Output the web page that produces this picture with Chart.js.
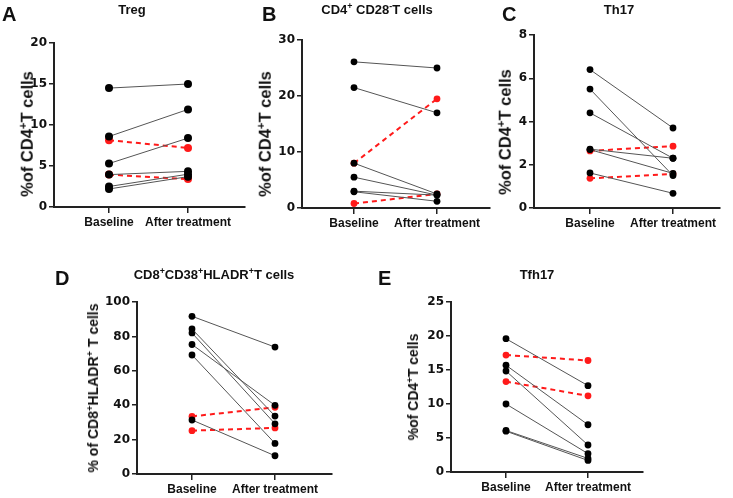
<!DOCTYPE html>
<html>
<head>
<meta charset="utf-8">
<script src="https://cdn.jsdelivr.net/npm/chart.js@4.4.1/dist/chart.umd.min.js"></script>
<style>
  html, body { margin: 0; padding: 0; background: #fff; }
  #wrap { position: relative; width: 733px; height: 498px; overflow: hidden; font-family: "Liberation Sans", Arial, sans-serif; color: #111; }
  canvas { position: absolute; left: 0; top: 0; }
  .t { position: absolute; font-weight: bold; white-space: nowrap; line-height: 1; }
  .letter { font-size: 20px; transform: translateY(-50%); }
  .title { font-size: 13px; transform: translate(-50%, -50%); }
  .ylab { transform: translate(-50%, -50%) rotate(-90deg); }
  sup { font-size: 68%; vertical-align: 0; position: relative; top: -0.55em; }
</style>
</head>
<body>
<div id="wrap">
  <canvas id="cA" width="733" height="498"></canvas>
  <canvas id="cB" width="733" height="498"></canvas>
  <canvas id="cC" width="733" height="498"></canvas>
  <canvas id="cD" width="733" height="498"></canvas>
  <canvas id="cE" width="733" height="498"></canvas>

  <div class="t letter" style="left:2px;top:14px">A</div>
  <div class="t letter" style="left:262px;top:14px">B</div>
  <div class="t letter" style="left:502px;top:14px">C</div>
  <div class="t letter" style="left:55px;top:278px">D</div>
  <div class="t letter" style="left:378px;top:278px">E</div>

  <div class="t title" style="left:132px;top:9px">Treg</div>
  <div class="t title" style="left:377px;top:9px">CD4<sup>+</sup> CD28<sup>-</sup>T cells</div>
  <div class="t title" style="left:619px;top:9px">Th17</div>
  <div class="t title" style="left:214px;top:274px">CD8<sup>+</sup>CD38<sup>+</sup>HLADR<sup>+</sup>T cells</div>
  <div class="t title" style="left:537px;top:274px">Tfh17</div>

  <div class="t ylab" style="left:27px;top:134px;font-size:16.5px">%of CD4<sup>+</sup>T cells</div>
  <div class="t ylab" style="left:265px;top:134px;font-size:16.5px">%of CD4<sup>+</sup>T cells</div>
  <div class="t ylab" style="left:505px;top:132px;font-size:16.5px">%of CD4<sup>+</sup>T cells</div>
  <div class="t ylab" style="left:93px;top:388px;font-size:14px">% of CD8<sup>+</sup>HLADR<sup>+</sup> T cells</div>
  <div class="t ylab" style="left:413px;top:387px;font-size:14px">%of CD4<sup>+</sup>T cells</div>
</div>
<script>
// ---- Data ----
const categories = ['Baseline', 'After treatment'];

// A: Treg
const tregBaseline = [14.5, 8.6, 5.3, 3.95, 2.5, 2.2];
const tregAfter    = [15.0, 11.9, 8.4, 4.35, 4.0, 3.7];
const tregRedBaseline = [8.15, 3.95];
const tregRedAfter    = [7.2, 3.4];
const tregTicks = [0, 5, 10, 15, 20];

// B: CD4+ CD28- T cells
const cd28Baseline = [26.1, 21.5, 8.0, 5.5, 3.0, 2.9];
const cd28After    = [25.0, 17.0, 2.5, 2.3, 2.3, 1.2];
const cd28RedBaseline = [8.0, 0.8];
const cd28RedAfter    = [19.5, 2.5];
const cd28Ticks = [0, 10, 20, 30];

// C: Th17
const th17Baseline = [6.4, 5.5, 4.4, 2.72, 2.7, 1.62];
const th17After    = [3.7, 1.5, 2.3, 2.3, 1.6, 0.68];
const th17RedBaseline = [2.64, 1.37];
const th17RedAfter    = [2.86, 1.58];
const th17Ticks = [0, 2, 4, 6, 8];

// D: CD8+CD38+HLADR+ T cells
const hladrBaseline = [91.7, 84.3, 82.0, 75.3, 69.2, 31.4];
const hladrAfter    = [73.8, 33.7, 29.2, 39.9, 17.8, 10.6];
const hladrRedBaseline = [33.5, 25.2];
const hladrRedAfter    = [38.8, 26.8];
const hladrTicks = [0, 20, 40, 60, 80, 100];

// E: Tfh17
const tfhBaseline = [19.6, 15.7, 14.85, 10.0, 6.1, 6.0];
const tfhAfter    = [12.7, 6.95, 3.97, 2.7, 2.0, 1.7];
const tfhRedBaseline = [17.2, 13.3];
const tfhRedAfter    = [16.4, 11.2];
const tfhTicks = [0, 5, 10, 15, 20, 25];

// ---- Builder ----
function pairDatasets(base, after, redBase, redAfter, r) {
  const ds = [];
  redBase.forEach((b, i) => {
    ds.push({
      data: [{x: 0, y: b}, {x: 1, y: redAfter[i]}],
      borderColor: '#ff1a1a', backgroundColor: '#ff1a1a',
      borderWidth: 2, borderDash: [5, 4],
      pointRadius: r, pointBorderWidth: 0, pointBackgroundColor: '#ff1a1a',
      order: 2
    });
  });
  base.forEach((b, i) => {
    ds.push({
      data: [{x: 0, y: b}, {x: 1, y: after[i]}],
      borderColor: '#555', backgroundColor: '#000',
      borderWidth: 1,
      pointRadius: r, pointBorderWidth: 0, pointBackgroundColor: '#000',
      order: 1
    });
  });
  return ds;
}

function makePanel(id, g, ticks, datasets) {
  const W = 733, H = 498, YW = 45, XH = 20;
  const px = (g.after - g.base);
  const xmin = -(g.base - g.left) / px;
  const xmax = 1 + (g.right - g.after) / px;
  new Chart(document.getElementById(id), {
    type: 'line',
    data: { datasets: datasets },
    options: {
      responsive: false,
      animation: false,
      devicePixelRatio: 1,
      layout: { padding: { left: g.left - YW, top: g.top, right: W - g.right, bottom: H - g.bottom - XH } },
      plugins: { legend: { display: false }, tooltip: { enabled: false }, title: { display: false } },
      elements: { line: { tension: 0 } },
      scales: {
        x: {
          type: 'linear', min: xmin, max: xmax,
          afterBuildTicks: (s) => { s.ticks = [{value: 0}, {value: 1}]; },
          afterFit: (s) => { s.height = XH; },
          grid: { drawOnChartArea: false, tickLength: 6, color: '#222', lineWidth: 1.5 },
          border: { display: true, color: '#222', width: 2 },
          ticks: {
            callback: (v) => categories[v],
            font: { family: 'Liberation Sans', weight: 'bold', size: 12 },
            color: '#111', padding: 2, maxRotation: 0, autoSkip: false
          }
        },
        y: {
          type: 'linear', min: ticks[0], max: ticks[ticks.length - 1],
          afterBuildTicks: (s) => { s.ticks = ticks.map(v => ({value: v})); },
          afterFit: (s) => { s.width = YW; },
          grid: { drawOnChartArea: false, tickLength: 5, color: '#222', lineWidth: 1.5 },
          border: { display: true, color: '#222', width: 2 },
          ticks: {
            font: { family: 'DejaVu Sans', weight: 'bold', size: 12 },
            color: '#111', padding: 2
          }
        }
      }
    }
  });
}

makePanel('cA', {left: 54, top: 43, bottom: 207, right: 245, base: 109, after: 188}, tregTicks,
  pairDatasets(tregBaseline, tregAfter, tregRedBaseline, tregRedAfter, 4));
makePanel('cB', {left: 302, top: 40, bottom: 208, right: 490, base: 354, after: 437}, cd28Ticks,
  pairDatasets(cd28Baseline, cd28After, cd28RedBaseline, cd28RedAfter, 3.4));
makePanel('cC', {left: 534, top: 35, bottom: 208, right: 720, base: 590, after: 673}, th17Ticks,
  pairDatasets(th17Baseline, th17After, th17RedBaseline, th17RedAfter, 3.4));
makePanel('cD', {left: 137, top: 302, bottom: 474, right: 332, base: 192, after: 275}, hladrTicks,
  pairDatasets(hladrBaseline, hladrAfter, hladrRedBaseline, hladrRedAfter, 3.4));
makePanel('cE', {left: 451, top: 302, bottom: 472, right: 643, base: 506, after: 588}, tfhTicks,
  pairDatasets(tfhBaseline, tfhAfter, tfhRedBaseline, tfhRedAfter, 3.4));
</script>
</body>
</html>
